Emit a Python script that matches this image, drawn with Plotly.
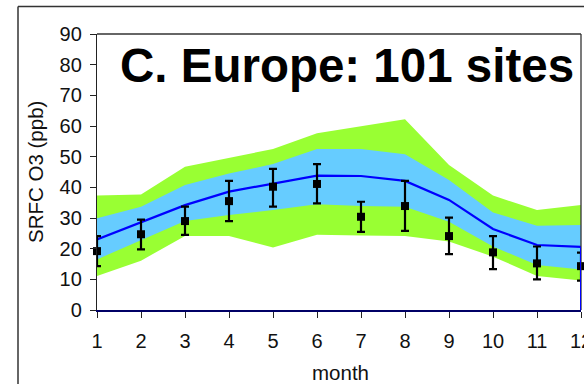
import plotly.graph_objects as go

# ---- data ----
months = [1, 2, 3, 4, 5, 6, 7, 8, 9, 10, 11, 12]
model_mean = [23.0, 28.5, 34.2, 38.6, 41.3, 43.8, 43.7, 42.1, 35.9, 26.4, 21.2, 20.6]
model_sd_high = [29.9, 33.7, 40.8, 44.5, 47.6, 52.5, 52.5, 50.8, 42.4, 31.8, 27.5, 27.7]
model_sd_low = [16.5, 22.8, 29.0, 31.0, 32.6, 34.5, 33.9, 33.7, 28.8, 20.7, 14.7, 13.2]
model_range_high = [37.3, 37.7, 46.7, 49.7, 52.5, 57.6, 59.8, 62.2, 47.3, 37.3, 32.6, 34.2]
model_range_low = [11.1, 16.1, 24.1, 24.1, 20.4, 24.5, 24.3, 24.1, 22.3, 17.4, 11.1, 9.6]
obs_mean = [19.2, 24.7, 29.0, 35.5, 40.2, 41.1, 30.4, 33.9, 24.1, 18.8, 15.2, 14.3]
obs_high = [24.1, 29.5, 33.7, 42.1, 46.0, 47.6, 35.3, 42.1, 30.1, 24.1, 20.7, 18.7]
obs_low = [14.3, 19.8, 24.5, 29.0, 33.7, 34.8, 25.5, 25.8, 18.2, 13.3, 10.0, 9.6]
y_ticks = [0, 10, 20, 30, 40, 50, 60, 70, 80, 90]
title_text = "C. Europe: 101 sites"
x_title = "month"
y_title = "SRFC O3 (ppb)"

# ---- layout geometry (pixels) ----
W, H = 584, 384
L, R, T, B = 97, 581, 34, 310
FONT = "Liberation Sans, Arial, sans-serif"


def px(x):
    return (x - L) / (R - L)


def py(y):
    return (B - y) / (B - T)


GREEN = "#99FF33"
BLUE_BAND = "#66CCFF"

fig = go.Figure()
# green band
fig.add_trace(go.Scatter(x=months, y=model_range_high, mode="lines",
                         line=dict(width=0), showlegend=False, hoverinfo="skip"))
fig.add_trace(go.Scatter(x=months, y=model_range_low, mode="lines",
                         line=dict(width=0), fill="tonexty", fillcolor=GREEN,
                         showlegend=False, hoverinfo="skip"))
# blue band
fig.add_trace(go.Scatter(x=months, y=model_sd_high, mode="lines",
                         line=dict(width=0), showlegend=False, hoverinfo="skip"))
fig.add_trace(go.Scatter(x=months, y=model_sd_low, mode="lines",
                         line=dict(width=0), fill="tonexty", fillcolor=BLUE_BAND,
                         showlegend=False, hoverinfo="skip"))
# model mean
fig.add_trace(go.Scatter(x=months, y=model_mean, mode="lines",
                         line=dict(color="#0000FF", width=2.2), showlegend=False,
                         cliponaxis=False))
# observations
fig.add_trace(go.Scatter(
    x=months, y=obs_mean, mode="markers",
    marker=dict(symbol="square", size=8, color="black"),
    error_y=dict(type="data", symmetric=False,
                 array=[h - m for h, m in zip(obs_high, obs_mean)],
                 arrayminus=[m - l for m, l in zip(obs_mean, obs_low)],
                 color="black", thickness=2.2, width=4),
    showlegend=False, cliponaxis=False))

shapes = [
    # plot frame top and right
    dict(type="line", xref="paper", yref="paper", x0=0, y0=1, x1=1, y1=1,
         line=dict(color="#333333", width=1.3)),
    dict(type="line", xref="paper", yref="paper", x0=1, y0=0, x1=1, y1=1,
         line=dict(color="#333333", width=1.3)),
    # model line drop at last month
    dict(type="line", xref="x", yref="y", x0=months[-1], x1=months[-1],
         y0=0, y1=model_mean[-1], line=dict(color="#0000FF", width=2)),
    # outer chart frame
    dict(type="line", xref="paper", yref="paper", x0=px(18), y0=py(6.5),
         x1=px(W + 5), y1=py(6.5), line=dict(color="#333333", width=1.5)),
    dict(type="line", xref="paper", yref="paper", x0=px(18), y0=py(6.5),
         x1=px(18), y1=py(H + 5), line=dict(color="#333333", width=1.5)),
]

annotations = [
    dict(text=title_text, xref="paper", yref="paper", x=px(118), y=py(66),
         xanchor="left", yanchor="middle", showarrow=False,
         font=dict(family=FONT, size=47.5, color="black", weight="bold")),
    dict(text=x_title, xref="paper", yref="paper", x=px(340), y=py(372),
         xanchor="center", yanchor="middle", showarrow=False,
         font=dict(family=FONT, size=20.5, color="#111111")),
    dict(text=y_title, xref="paper", yref="paper", x=px(35), y=py(172),
         xanchor="center", yanchor="middle", showarrow=False, textangle=-90,
         font=dict(family=FONT, size=20.5, color="#111111")),
]

fig.update_layout(
    width=W, height=H,
    margin=dict(l=L, r=W - R, t=T, b=H - B, pad=0, autoexpand=False),
    paper_bgcolor="white", plot_bgcolor="white",
    font=dict(family=FONT, size=20, color="#111111"),
    shapes=shapes, annotations=annotations,
    showlegend=False,
    xaxis=dict(range=[1, 12], tickmode="array", tickvals=months,
               ticktext=[str(m) for m in months],
               showgrid=False, zeroline=False, showline=True,
               linecolor="#000066", linewidth=1.5, automargin=False,
               ticks="outside", ticklen=6, tickcolor="#222222", tickwidth=1.3,
               ticklabelstandoff=6, ticklabeloverflow="allow",
               tickfont=dict(family=FONT, size=20, color="#111111")),
    yaxis=dict(range=[0, 90], tickmode="array", tickvals=y_ticks,
               showgrid=False, zeroline=False, showline=True,
               linecolor="#222222", linewidth=1.3, automargin=False,
               ticks="outside", ticklen=6, tickcolor="#222222", tickwidth=1.3,
               ticklabelstandoff=4,
               tickfont=dict(family=FONT, size=20, color="#111111")),
)

fig.write_html("out.html",
               config={"displayModeBar": False},
               post_script="document.body.style.margin='0';"
                           "document.body.style.overflow='hidden';")
